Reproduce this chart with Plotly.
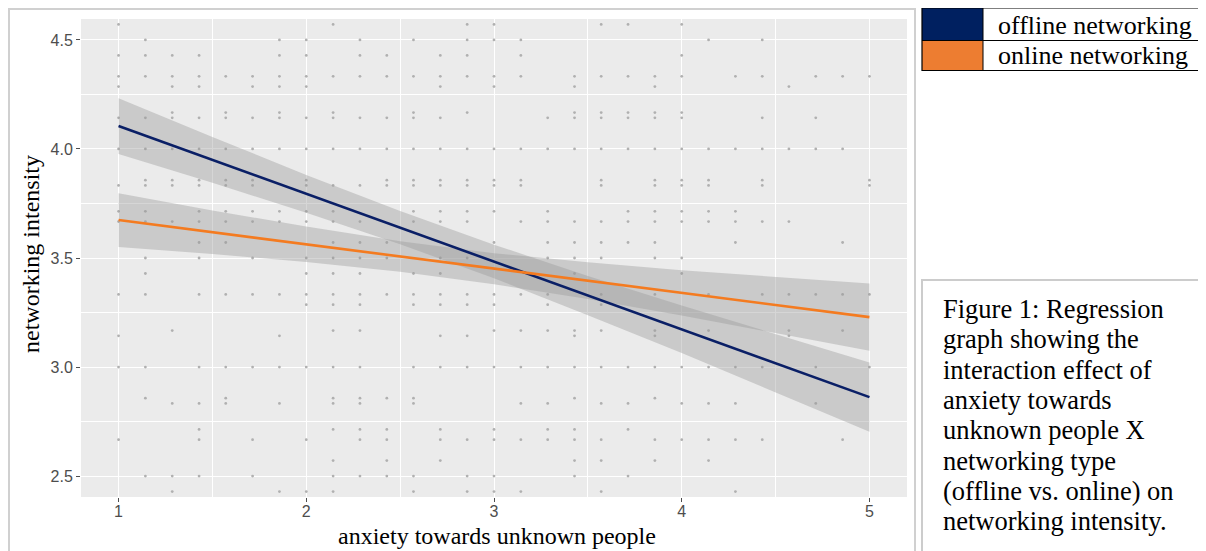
import plotly.graph_objects as go

# page is shown with the browser's default 8px body margin, so the figure is
# sized to fill the 1206x551 window from that offset
OFF = 8
FW, FH = 1206 - OFF, 551 - OFF

# ---- data ----
x_levels = [1.0, 1.143, 1.286, 1.429, 1.571, 1.714, 1.857, 2.0, 2.143, 2.286,
            2.429, 2.571, 2.714, 2.857, 3.0, 3.143, 3.286, 3.429, 3.571, 3.714,
            3.857, 4.0, 4.143, 4.286, 4.429, 4.571, 4.714, 4.857, 5.0]

dot_y_levels = [4.571, 4.5, 4.429, 4.333, 4.286, 4.167, 4.143, 4.0, 3.857, 3.833,
                3.714, 3.667, 3.571, 3.5, 3.429, 3.333, 3.286, 3.167, 3.143, 3.0,
                2.857, 2.833, 2.714, 2.667, 2.571, 2.5, 2.429]

dot_columns = [
    [0, 8, 13, 14, 18, 19, 21],
    [1, 6, 7, 9, 11, 13, 14, 15, 22, 24],
    [0, 1, 2, 3, 6, 7, 9, 10, 12, 13, 15, 21],
    [0, 1, 2, 3, 4, 5, 6, 7, 8, 9, 10, 11, 12, 13, 14, 15, 17, 18, 19, 20, 21, 23, 24, 26, 27, 28],
    [0, 2, 3, 5, 6, 7, 12, 14, 17, 20, 25],
    [2, 4, 6, 8, 11, 13, 17, 18, 19, 20, 21],
    [0, 1, 2, 3, 4, 5, 6, 7, 8, 9, 10, 11, 12, 16, 17, 18, 19, 20, 21, 24, 26],
    [0, 1, 2, 3, 4, 5, 6, 7, 8, 9, 10, 11, 12, 13, 14, 15, 16, 17, 18, 19, 20, 21, 22, 23, 24, 25, 26, 27],
    [1, 2, 3, 4, 5, 7, 10, 11, 12, 13, 14, 15, 18, 20, 21, 22, 24, 28],
    [0, 1, 2, 3, 4, 5, 7, 8, 9, 10, 11, 12, 13, 14, 15, 18, 20, 21, 22, 24, 28],
    [0, 1, 3, 4, 5, 6, 7, 8, 11, 12, 13, 14, 16, 19, 20, 21, 22, 23],
    [0, 1, 2, 3, 4, 5, 6, 7, 8, 9, 11, 12, 13, 15, 16, 17, 18, 19, 20, 21, 22, 23, 24, 25],
    [3, 4, 8, 9, 10, 14, 16, 17, 18, 19, 20, 23, 27],
    [1, 3, 5, 7, 8, 9, 10, 12, 13, 16, 17, 18, 20, 21],
    [1, 7, 8, 9, 11, 12, 17, 21],
    [0, 1, 3, 4, 5, 6, 7, 8, 9, 10, 11, 12, 13, 14, 15, 16, 18, 20, 22, 24, 25, 26, 27, 28],
    [7, 8, 9, 11, 12, 13, 14, 16, 18],
    [2, 8, 9, 14, 15, 16, 17, 18, 20, 22, 25, 27],
    [0, 6, 12, 13, 17, 20, 25],
    [0, 1, 3, 4, 5, 6, 7, 8, 9, 11, 12, 13, 14, 15, 16, 17, 18, 19, 20, 21, 22, 23, 24, 26, 28],
    [1, 4, 8, 9, 10, 11, 17, 20],
    [2, 3, 4, 6, 8, 9, 11, 15, 16, 18, 19, 21, 22, 23, 26],
    [3, 8, 9, 10, 12, 14, 16, 17, 19],
    [0, 3, 5, 7, 9, 10, 12, 13, 14, 15, 16, 17, 18, 20, 21, 22, 23, 24, 27],
    [8, 10, 12, 17, 18, 20, 22],
    [1, 2, 3, 5, 8, 9, 10, 11, 13, 14, 17, 19],
    [2, 6, 7, 8, 11, 13, 14, 15, 18, 23],
]

band_x = [1.0, 1.5, 2.0, 2.5, 3.0, 3.5, 4.0, 4.5, 5.0]
offline_fit = [4.105, 3.950, 3.794, 3.639, 3.484, 3.328, 3.173, 3.017, 2.862]
offline_upper = [4.233, 4.055, 3.881, 3.715, 3.561, 3.418, 3.282, 3.150, 3.021]
offline_lower = [3.977, 3.845, 3.708, 3.563, 3.407, 3.238, 3.064, 2.884, 2.703]
online_fit = [3.674, 3.618, 3.563, 3.507, 3.451, 3.396, 3.340, 3.285, 3.229]
online_upper = [3.797, 3.718, 3.644, 3.577, 3.522, 3.480, 3.444, 3.413, 3.383]
online_lower = [3.551, 3.518, 3.482, 3.437, 3.380, 3.312, 3.236, 3.157, 3.075]

y_ticks = [2.5, 3.0, 3.5, 4.0, 4.5]
y_tick_labels = ["2.5", "3.0", "3.5", "4.0", "4.5"]
x_ticks = [1, 2, 3, 4, 5]
x_tick_labels = ["1", "2", "3", "4", "5"]

series_names = ["offline networking", "online networking"]
series_colors = ["#002060", "#ED7D31"]
line_colors = ["#0A1F66", "#F47B20"]

caption_lines = ["Figure 1: Regression", "graph showing the", "interaction effect of",
                 "anxiety towards", "unknown people X", "networking type",
                 "(offline vs. online) on", "networking intensity."]

# ---- build figure ----
dots_x, dots_y = [], []
for yv, cols in zip(dot_y_levels, dot_columns):
    for c in cols:
        dots_x.append(x_levels[c])
        dots_y.append(yv)

fig = go.Figure()
fig.add_trace(go.Scatter(x=dots_x, y=dots_y, mode="markers",
                         marker=dict(size=2.8, color="#B0B0B0"),
                         showlegend=False, hoverinfo="skip"))

for upper, lower in [(offline_upper, offline_lower), (online_upper, online_lower)]:
    fig.add_trace(go.Scatter(x=band_x + band_x[::-1], y=upper + lower[::-1],
                             fill="toself", fillcolor="rgba(153,153,153,0.4)",
                             line=dict(width=0), mode="lines",
                             showlegend=False, hoverinfo="skip"))

for fit, name, col in [(offline_fit, series_names[0], line_colors[0]),
                       (online_fit, series_names[1], line_colors[1])]:
    fig.add_trace(go.Scatter(x=band_x, y=fit, mode="lines", name=name,
                             line=dict(color=col, width=2.6), showlegend=False))


def px(x):
    return (x - OFF) / FW


def py(y):
    return 1 - (y - OFF) / FH


grid_col = "#FFFFFF"
tick_font = dict(size=16, color="#4D4D4D", family="Liberation Sans, Arial")
fig.update_layout(
    width=FW, height=FH, autosize=False,
    margin=dict(l=0, r=0, t=0, b=0),
    paper_bgcolor="white", plot_bgcolor="#EBEBEB",
    font=dict(family="Liberation Sans, Arial", color="#4D4D4D"),
    xaxis=dict(domain=[px(81), px(907)], range=[0.8, 5.2],
               tickvals=x_ticks, ticktext=x_tick_labels,
               ticks="outside", ticklen=4, tickwidth=1, tickcolor="#4D4D4D",
               tickfont=tick_font, ticklabelstandoff=-4,
               showgrid=True, gridcolor=grid_col, gridwidth=1.3,
               minor=dict(dtick=0.5, tick0=0.5, showgrid=True, gridcolor=grid_col, gridwidth=0.6),
               zeroline=False, showline=False, fixedrange=True),
    yaxis=dict(domain=[py(497), py(19)], range=[2.404, 4.596],
               tickvals=y_ticks, ticktext=y_tick_labels,
               ticks="outside", ticklen=4, tickwidth=1, tickcolor="#4D4D4D",
               tickfont=tick_font,
               showgrid=True, gridcolor=grid_col, gridwidth=1.3,
               minor=dict(dtick=0.25, tick0=2.25, showgrid=True, gridcolor=grid_col, gridwidth=0.6),
               zeroline=False, showline=False, fixedrange=True),
    showlegend=False,
)

serif = "Liberation Serif, Times New Roman, serif"
shapes = []
# outer chart frame
shapes.append(dict(type="rect", xref="paper", yref="paper",
                   x0=px(9), x1=px(915), y0=py(9), y1=py(570),
                   line=dict(color="#D0D0D0", width=2), fillcolor="rgba(0,0,0,0)"))
# legend table
shapes.append(dict(type="rect", xref="paper", yref="paper",
                   x0=px(922), x1=px(983), y0=py(8), y1=py(40.5),
                   line=dict(width=0), fillcolor=series_colors[0]))
shapes.append(dict(type="rect", xref="paper", yref="paper",
                   x0=px(922), x1=px(983), y0=py(40.5), y1=py(70.5),
                   line=dict(width=0), fillcolor=series_colors[1]))
shapes.append(dict(type="rect", xref="paper", yref="paper",
                   x0=px(922), x1=px(1220), y0=py(8), y1=py(70.5),
                   line=dict(color="#000000", width=1.2), fillcolor="rgba(0,0,0,0)"))
shapes.append(dict(type="line", xref="paper", yref="paper",
                   x0=px(922), x1=px(1220), y0=py(40.5), y1=py(40.5),
                   line=dict(color="#000000", width=1)))
shapes.append(dict(type="line", xref="paper", yref="paper",
                   x0=px(983), x1=px(983), y0=py(8), y1=py(70.5),
                   line=dict(color="#000000", width=1)))
# caption frame
shapes.append(dict(type="rect", xref="paper", yref="paper",
                   x0=px(922), x1=px(1220), y0=py(280), y1=py(570),
                   line=dict(color="#CCCCCC", width=2), fillcolor="rgba(0,0,0,0)"))
fig.update_layout(shapes=shapes)

ann = []
ann.append(dict(text="anxiety towards unknown people", xref="paper", yref="paper",
                x=px(497), y=py(536), xanchor="center", yanchor="middle", showarrow=False,
                font=dict(family=serif, size=24, color="#000000")))
ann.append(dict(text="networking intensity", xref="paper", yref="paper",
                x=px(31), y=py(254), xanchor="center", yanchor="middle", showarrow=False,
                textangle=-90, font=dict(family=serif, size=24, color="#000000")))
ann.append(dict(text=series_names[0], xref="paper", yref="paper",
                x=px(996), y=py(25.5), xanchor="left", yanchor="middle", showarrow=False,
                font=dict(family=serif, size=26, color="#000000")))
ann.append(dict(text=series_names[1], xref="paper", yref="paper",
                x=px(996), y=py(55.5), xanchor="left", yanchor="middle", showarrow=False,
                font=dict(family=serif, size=26, color="#000000")))
line_centres = [309, 339.3, 369.6, 399.9, 430.2, 460.5, 490.8, 521]
for txt, yc in zip(caption_lines, line_centres):
    ann.append(dict(text=txt, xref="paper", yref="paper",
                    x=px(941), y=py(yc), xanchor="left", yanchor="middle", showarrow=False,
                    font=dict(family=serif, size=26.5, color="#000000")))
fig.update_layout(annotations=ann)

fig.write_html("out.html")
